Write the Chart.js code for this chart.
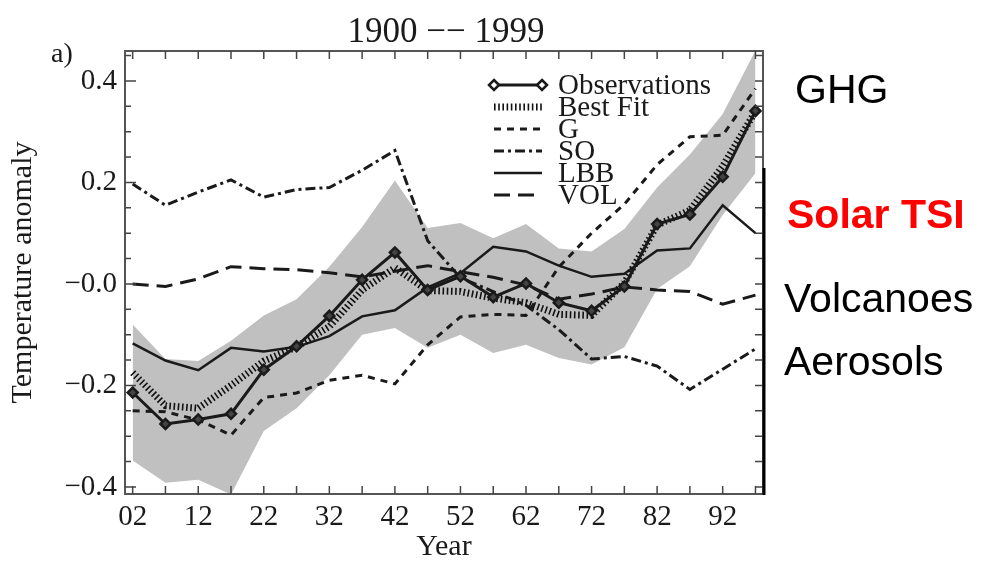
<!DOCTYPE html>
<html>
<head>
<meta charset="utf-8">
<title>Temperature anomaly 1900 - 1999</title>
<script src="https://cdn.jsdelivr.net/npm/chart.js@4.4.0/dist/chart.umd.min.js"></script>
<style>
  html, body { margin: 0; padding: 0; background: #fff; }
  canvas { display: block; }
</style>
</head>
<body>
<canvas id="chart" width="981" height="562"></canvas>
<script>
// pentad centres, years after 1900
const years = [2, 7, 12, 17, 22, 27, 32, 37, 42, 47, 52, 57, 62, 67, 72, 77, 82, 87, 92, 97];

const observations = [-0.214, -0.276, -0.267, -0.256, -0.169, -0.123, -0.063, 0.008, 0.062, -0.012,
                      0.015, -0.026, 0.001, -0.037, -0.053, -0.005, 0.118, 0.137, 0.211, 0.341];
const bestFit = [-0.175, -0.24, -0.245, -0.2, -0.152, -0.124, -0.084, -0.012, 0.032, -0.013,
                 -0.015, -0.028, -0.037, -0.06, -0.062, 0.002, 0.116, 0.145, 0.232, 0.34];
const gSeries = [-0.25, -0.252, -0.268, -0.298, -0.224, -0.215, -0.19, -0.18, -0.197, -0.12,
                 -0.065, -0.06, -0.062, 0.033, 0.1, 0.157, 0.235, 0.29, 0.293, 0.385];
const soSeries = [0.197, 0.155, 0.181, 0.205, 0.171, 0.186, 0.19, 0.224, 0.263, 0.085,
                  0.012, -0.015, -0.042, -0.09, -0.148, -0.143, -0.162, -0.208, -0.168, -0.128];
const lbbSeries = [-0.117, -0.151, -0.17, -0.126, -0.133, -0.124, -0.103, -0.064, -0.052, -0.007,
                   0.021, 0.073, 0.064, 0.036, 0.014, 0.02, 0.066, 0.07, 0.155, 0.1];
const volSeries = [0.0, -0.005, 0.01, 0.034, 0.03, 0.028, 0.022, 0.014, 0.025, 0.036,
                   0.024, 0.013, -0.002, -0.03, -0.02, -0.006, -0.012, -0.015, -0.04, -0.022];
// grey uncertainty band
const bandUpper = [-0.08, -0.148, -0.152, -0.112, -0.062, -0.03, 0.034, 0.112, 0.204, 0.11,
                   0.12, 0.09, 0.118, 0.07, 0.064, 0.108, 0.19, 0.255, 0.335, 0.46];
const bandLower = [-0.348, -0.392, -0.386, -0.415, -0.29, -0.245, -0.18, -0.1, -0.087, -0.126,
                   -0.1, -0.136, -0.12, -0.146, -0.159, -0.125, -0.01, 0.035, 0.136, 0.218];

const xTickValues = [2, 12, 22, 32, 42, 52, 62, 72, 82, 92];
const xTickLabels = ['02', '12', '22', '32', '42', '52', '62', '72', '82', '92'];
const yTickValues = [-0.4, -0.2, 0, 0.2, 0.4];
const yTickLabels = ['\u22120.4', '\u22120.2', '\u22120.0', '0.2', '0.4'];

const serif = '"Liberation Serif", "Times New Roman", serif';
const sans = '"Liberation Sans", Arial, sans-serif';
const ink = '#1a1a1a';

const pts = arr => years.map((x, i) => ({ x: x, y: arr[i] }));

// box, inward ticks, legend, title and side notes
const decorations = {
  id: 'decorations',
  afterDraw(chart) {
    const { ctx, chartArea: a, scales: { x, y } } = chart;
    ctx.save();

    ctx.strokeStyle = '#555';
    ctx.lineWidth = 2;
    ctx.strokeRect(a.left, a.top, a.right - a.left, a.bottom - a.top);

    ctx.strokeStyle = '#444';
    ctx.lineWidth = 1.5;
    ctx.beginPath();
    for (let v = 2; v <= 97; v += 5) {
      const px = x.getPixelForValue(v);
      ctx.moveTo(px, a.bottom); ctx.lineTo(px, a.bottom - 8);
      ctx.moveTo(px, a.top); ctx.lineTo(px, a.top + 8);
    }
    for (let i = -8; i <= 9; i++) {
      const py = y.getPixelForValue(i * 0.05);
      const major = i % 4 === 0;
      ctx.moveTo(a.left, py); ctx.lineTo(a.left + (major ? 11 : 6), py);
      ctx.moveTo(a.right, py); ctx.lineTo(a.right - 8, py);
    }
    ctx.stroke();

    // the darker lower part of the right edge
    ctx.strokeStyle = '#000';
    ctx.lineWidth = 3;
    ctx.beginPath();
    ctx.moveTo(a.right + 1, 168); ctx.lineTo(a.right + 1, a.bottom + 1);
    ctx.stroke();

    // legend
    const rows = [85, 107, 129, 151, 173, 195];
    const items = chart.data.datasets.filter(d => !d.band);
    items.forEach((d, i) => {
      const ry = rows[i];
      ctx.setLineDash(d.borderDash || []);
      ctx.lineWidth = d.borderWidth;
      ctx.strokeStyle = d.borderColor;
      ctx.beginPath();
      ctx.moveTo(494, ry); ctx.lineTo(542, ry);
      ctx.stroke();
      ctx.setLineDash([]);
      if (d.pointRadius) {
        [494, 542].forEach(cx => {
          ctx.beginPath();
          ctx.moveTo(cx, ry - 5); ctx.lineTo(cx + 5, ry); ctx.lineTo(cx, ry + 5); ctx.lineTo(cx - 5, ry);
          ctx.closePath();
          ctx.fillStyle = '#fff'; ctx.fill();
          ctx.lineWidth = 2.5; ctx.strokeStyle = ink; ctx.stroke();
        });
      }
      ctx.fillStyle = ink;
      ctx.font = '29px ' + serif;
      ctx.textAlign = 'left';
      ctx.textBaseline = 'alphabetic';
      ctx.fillText(d.label, 558, ry + 9);
    });

    ctx.fillStyle = ink;
    ctx.font = '35px ' + serif;
    ctx.textAlign = 'center';
    ctx.fillText('1900 \u2212\u2212 1999', 446, 42);
    ctx.font = '28px ' + serif;
    ctx.textAlign = 'left';
    ctx.fillText('a)', 51, 62);

    ctx.font = '41px ' + sans;
    ctx.fillStyle = '#000';
    ctx.fillText('GHG', 795, 103);
    ctx.fillText('Volcanoes', 784, 312);
    ctx.fillText('Aerosols', 784, 375);
    ctx.font = 'bold 41px ' + sans;
    ctx.fillStyle = '#ff0000';
    ctx.fillText('Solar TSI', 787, 228);
    ctx.restore();
  }
};

new Chart(document.getElementById('chart').getContext('2d'), {
  type: 'line',
  data: {
    datasets: [
      {
        label: 'Observations', data: pts(observations),
        borderColor: ink, borderWidth: 3,
        pointStyle: 'rectRot', pointRadius: 5, pointBorderWidth: 2.5,
        pointBorderColor: ink, pointBackgroundColor: '#444'
      },
      { label: 'Best Fit', data: pts(bestFit), borderColor: '#111', borderWidth: 7, borderDash: [1.6, 2.6], pointRadius: 0 },
      { label: 'G', data: pts(gSeries), borderColor: ink, borderWidth: 3, borderDash: [7, 6], pointRadius: 0 },
      { label: 'SO', data: pts(soSeries), borderColor: ink, borderWidth: 3, borderDash: [10, 4, 3, 4], pointRadius: 0 },
      { label: 'LBB', data: pts(lbbSeries), borderColor: ink, borderWidth: 2.5, pointRadius: 0 },
      { label: 'VOL', data: pts(volSeries), borderColor: ink, borderWidth: 3, borderDash: [16, 8], pointRadius: 0 },
      {
        label: 'upper', band: true, data: pts(bandUpper),
        borderWidth: 0, pointRadius: 0, fill: '+1', backgroundColor: '#c0c0c0'
      },
      { label: 'lower', band: true, data: pts(bandLower), borderWidth: 0, pointRadius: 0, fill: false }
    ]
  },
  options: {
    responsive: false,
    animation: false,
    devicePixelRatio: 1,
    layout: { padding: { left: 0, top: 51, right: 218, bottom: 0 } },
    elements: { line: { tension: 0 } },
    plugins: {
      legend: { display: false },
      tooltip: { enabled: false }
    },
    scales: {
      x: {
        type: 'linear', min: 0.83, max: 98.15,
        grid: { display: false, drawTicks: false },
        border: { display: false },
        afterBuildTicks: s => { s.ticks = xTickValues.map(v => ({ value: v })); },
        afterFit: s => { s.height = 68; },
        ticks: {
          callback: (v, i) => xTickLabels[i],
          font: { family: serif, size: 29 }, color: ink,
          padding: 6, maxRotation: 0, autoSkip: false
        },
        title: {
          display: true, text: 'Year', color: ink,
          font: { family: serif, size: 30, lineHeight: 1 },
          padding: { top: 0, bottom: 0 }
        }
      },
      y: {
        min: -0.414, max: 0.459,
        grid: { display: false, drawTicks: false },
        border: { display: false },
        afterBuildTicks: s => { s.ticks = yTickValues.map(v => ({ value: v })); },
        afterFit: s => { s.width = 125; },
        ticks: {
          callback: (v, i) => yTickLabels[i],
          font: { family: serif, size: 29 }, color: ink,
          padding: 8
        },
        title: {
          display: true, text: 'Temperature anomaly', color: ink,
          font: { family: serif, size: 30, lineHeight: 1 },
          padding: { top: 8, bottom: 0 }
        }
      }
    }
  },
  plugins: [decorations]
});
</script>
</body>
</html>
